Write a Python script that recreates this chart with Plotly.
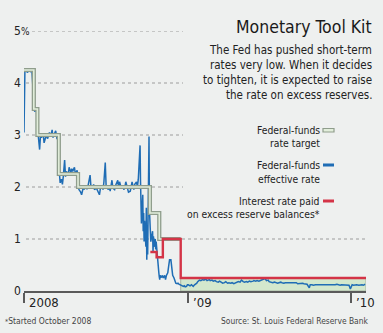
import plotly.graph_objects as go

# ---- data -------------------------------------------------------------
# Federal-funds rate target (step changes)
target_dates = ["2007-12-31", "2008-01-22", "2008-01-30", "2008-03-18",
                "2008-04-30", "2008-10-08", "2008-10-29", "2008-12-16"]
target_values = [4.25, 3.5, 3.0, 2.25, 2.0, 1.5, 1.0, 1.0]

# Target range 0-0.25% from Dec. 16, 2008
range_start = "2008-12-16"
range_end = "2010-02-04"
range_low = 0.0
range_high = 0.25

# Interest rate paid on excess reserve balances
ioer_dates = ["2008-10-09", "2008-10-23", "2008-11-06", "2008-12-16", "2010-02-04"]
ioer_values = [0.75, 0.65, 1.0, 0.25, 0.25]

# Federal-funds effective rate
eff_dates = [
    "2007-12-31", "2008-01-02", "2008-01-04", "2008-01-08", "2008-01-10", "2008-01-14",
    "2008-01-16", "2008-01-18", "2008-01-22", "2008-01-24", "2008-01-28", "2008-01-30",
    "2008-02-01", "2008-02-04", "2008-02-06", "2008-02-08", "2008-02-12", "2008-02-14",
    "2008-02-19", "2008-02-22", "2008-02-26", "2008-02-29", "2008-03-03", "2008-03-05",
    "2008-03-07", "2008-03-11", "2008-03-14", "2008-03-17", "2008-03-19", "2008-03-21",
    "2008-03-24", "2008-03-26", "2008-03-28", "2008-03-31", "2008-04-02", "2008-04-04",
    "2008-04-08", "2008-04-10", "2008-04-14", "2008-04-16", "2008-04-18", "2008-04-22",
    "2008-04-24", "2008-04-28", "2008-04-30", "2008-05-02", "2008-05-06", "2008-05-08",
    "2008-05-12", "2008-05-14", "2008-05-16", "2008-05-20", "2008-05-22", "2008-05-27",
    "2008-05-29", "2008-06-02", "2008-06-04", "2008-06-06", "2008-06-10", "2008-06-13",
    "2008-06-17", "2008-06-19", "2008-06-23", "2008-06-25", "2008-06-27", "2008-06-30",
    "2008-07-02", "2008-07-07", "2008-07-09", "2008-07-11", "2008-07-15", "2008-07-17",
    "2008-07-21", "2008-07-24", "2008-07-28", "2008-07-30", "2008-08-01", "2008-08-05",
    "2008-08-07", "2008-08-11", "2008-08-13", "2008-08-15", "2008-08-19", "2008-08-21",
    "2008-08-25", "2008-08-27", "2008-08-29", "2008-09-02", "2008-09-04", "2008-09-08",
    "2008-09-10", "2008-09-12", "2008-09-15", "2008-09-16", "2008-09-17", "2008-09-18",
    "2008-09-19", "2008-09-22", "2008-09-23", "2008-09-24", "2008-09-25", "2008-09-26",
    "2008-09-29", "2008-09-30", "2008-10-01", "2008-10-02", "2008-10-03", "2008-10-06",
    "2008-10-07", "2008-10-08", "2008-10-09", "2008-10-10", "2008-10-14", "2008-10-15",
    "2008-10-16", "2008-10-17", "2008-10-20", "2008-10-21", "2008-10-22", "2008-10-23",
    "2008-10-24", "2008-10-27", "2008-10-28", "2008-10-29", "2008-10-30", "2008-10-31",
    "2008-11-03", "2008-11-05", "2008-11-07", "2008-11-10", "2008-11-12", "2008-11-14",
    "2008-11-17", "2008-11-19", "2008-11-21", "2008-11-24", "2008-11-26", "2008-11-28",
    "2008-12-01", "2008-12-03", "2008-12-05", "2008-12-08", "2008-12-10", "2008-12-12",
    "2008-12-15", "2008-12-17", "2008-12-19", "2008-12-22", "2008-12-24", "2008-12-26",
    "2008-12-29", "2008-12-31",
    "2009-01-02", "2009-01-06", "2009-01-09", "2009-01-13", "2009-01-16", "2009-01-21",
    "2009-01-23", "2009-01-27", "2009-01-30", "2009-02-03", "2009-02-06", "2009-02-10",
    "2009-02-13", "2009-02-18", "2009-02-20", "2009-02-24", "2009-02-27", "2009-03-03",
    "2009-03-06", "2009-03-10", "2009-03-13", "2009-03-17", "2009-03-20", "2009-03-24",
    "2009-03-27", "2009-03-31", "2009-04-03", "2009-04-07", "2009-04-10", "2009-04-14",
    "2009-04-17", "2009-04-21", "2009-04-24", "2009-04-28", "2009-05-01", "2009-05-05",
    "2009-05-08", "2009-05-12", "2009-05-15", "2009-05-19", "2009-05-22", "2009-05-27",
    "2009-05-29", "2009-06-02", "2009-06-05", "2009-06-09", "2009-06-12", "2009-06-16",
    "2009-06-19", "2009-06-23", "2009-06-26", "2009-06-30", "2009-07-02", "2009-07-07",
    "2009-07-10", "2009-07-14", "2009-07-17", "2009-07-21", "2009-07-24", "2009-07-28",
    "2009-07-31", "2009-08-04", "2009-08-07", "2009-08-11", "2009-08-14", "2009-08-18",
    "2009-08-21", "2009-08-25", "2009-08-28", "2009-09-01", "2009-09-04", "2009-09-09",
    "2009-09-11", "2009-09-15", "2009-09-18", "2009-09-22", "2009-09-25", "2009-09-30",
    "2009-10-02", "2009-10-06", "2009-10-09", "2009-10-14", "2009-10-16", "2009-10-20",
    "2009-10-23", "2009-10-27", "2009-10-30", "2009-11-03", "2009-11-06", "2009-11-10",
    "2009-11-13", "2009-11-17", "2009-11-20", "2009-11-24", "2009-11-27", "2009-12-01",
    "2009-12-04", "2009-12-08", "2009-12-11", "2009-12-15", "2009-12-18", "2009-12-22",
    "2009-12-28", "2009-12-31", "2010-01-04", "2010-01-07", "2010-01-11", "2010-01-14",
    "2010-01-19", "2010-01-22", "2010-01-26", "2010-01-29", "2010-02-02",
]
eff_values = [
    3.05, 4.22, 4.24, 4.20, 4.25, 4.22,
    4.26, 4.20, 3.62, 3.45, 3.50, 3.00,
    2.98, 2.72, 3.00, 2.95, 3.02, 2.85,
    3.00, 2.93, 3.05, 2.97, 3.10, 2.95,
    3.00, 3.08, 2.92, 2.98, 2.30, 2.08,
    2.15, 2.05, 2.20, 2.52, 2.20, 2.30,
    2.22, 2.38, 2.28, 2.35, 2.30, 2.38,
    2.25, 2.32, 2.10, 1.95, 1.90, 1.85,
    2.00, 1.95, 2.02, 1.96, 2.00, 2.23,
    2.00, 1.98, 2.05, 1.95, 1.98, 1.92,
    1.85, 1.97, 2.00, 1.95, 2.10, 2.47,
    2.00, 1.95, 2.02, 1.92, 2.13, 1.98,
    1.95, 2.05, 2.13, 1.98, 2.10, 1.97,
    2.03, 1.95, 2.00, 2.10, 1.98, 1.90,
    1.92, 2.00, 2.10, 1.95, 2.05, 2.10,
    2.00, 2.15, 2.60, 2.80, 2.10, 1.60,
    1.30, 1.85, 1.15, 1.50, 0.95, 1.35,
    0.85, 1.60, 0.60, 1.20, 0.70, 2.97,
    1.55, 1.20, 1.35, 0.95, 1.15, 0.75,
    1.05, 0.85, 1.00, 0.80, 0.95, 0.82,
    0.70, 0.50, 0.35, 0.27, 0.22, 0.30,
    0.26, 0.30, 0.25, 0.30, 0.22, 0.30,
    0.35, 0.48, 0.60, 0.60, 0.45, 0.30,
    0.25, 0.20, 0.15, 0.14, 0.15, 0.13,
    0.12, 0.11, 0.10, 0.09, 0.10, 0.08,
    0.09, 0.12,
    0.12, 0.10, 0.12, 0.09, 0.12, 0.15,
    0.18, 0.21, 0.20, 0.22, 0.21, 0.23,
    0.20, 0.22, 0.20, 0.21, 0.19, 0.20,
    0.18, 0.17, 0.19, 0.17, 0.15, 0.16,
    0.18, 0.15, 0.16, 0.15, 0.16, 0.14,
    0.15, 0.16, 0.18, 0.17, 0.21, 0.18,
    0.17, 0.18, 0.17, 0.19, 0.18, 0.19,
    0.20, 0.19, 0.20, 0.19, 0.20, 0.21,
    0.22, 0.24, 0.20, 0.21, 0.18, 0.17,
    0.16, 0.17, 0.16, 0.15, 0.16, 0.17,
    0.16, 0.15, 0.16, 0.16, 0.15, 0.16,
    0.15, 0.16, 0.15, 0.16, 0.14, 0.15,
    0.14, 0.15, 0.14, 0.14, 0.13, 0.06,
    0.12, 0.12, 0.11, 0.12, 0.12, 0.11,
    0.12, 0.11, 0.12, 0.12, 0.11, 0.12,
    0.12, 0.12, 0.11, 0.12, 0.12, 0.13,
    0.12, 0.11, 0.12, 0.12, 0.12, 0.12,
    0.11, 0.04, 0.12, 0.11, 0.12, 0.12,
    0.11, 0.12, 0.12, 0.11, 0.13,
]

y_ticks = [0, 1, 2, 3, 4, 5]
y_tick_text = ["0", "1", "2", "3", "4", "5<span style='font-size:10px'>%</span>"]
x_ticks = ["2008-01-01", "2009-01-01", "2010-01-01"]
x_tick_text = ["2008", "\u201909", "\u201910"]

# ---- styling ----------------------------------------------------------
W, H = 383, 333
L, R, T, B = 24, 17, 31, 42
PW, PH = W - L - R, H - T - B
BG = "#eef0ef"
TXT = "#222222"
FONT = "Liberation Sans Narrow, DejaVu Sans Condensed, Arial Narrow, sans-serif"
BLUE = "#1f6db5"
RED = "#d43447"
GREEN_EDGE = "#8f9d8c"
GREEN_IN = "#e2eedb"
BAND = "#d3e8cd"


def px(x):
    return (x - L) / PW


def py(y):
    return (H - B - y) / PH


fig = go.Figure()

# target range band
fig.add_trace(go.Scatter(
    x=[range_start, range_start, range_end, range_end, range_start],
    y=[range_low, range_high, range_high, range_low, range_low],
    mode="lines", fill="toself", fillcolor=BAND,
    line=dict(color="#a7b5a3", width=1), hoverinfo="skip"))

# effective rate
fig.add_trace(go.Scatter(
    x=eff_dates, y=eff_values, mode="lines",
    line=dict(color=BLUE, width=1.5)))

# target rate, drawn as a double line
fig.add_trace(go.Scatter(
    x=target_dates, y=target_values, mode="lines", line_shape="hv",
    line=dict(color=GREEN_EDGE, width=4.2)))
fig.add_trace(go.Scatter(
    x=target_dates, y=target_values, mode="lines", line_shape="hv",
    line=dict(color=GREEN_IN, width=1.6)))

# interest on excess reserves
fig.add_trace(go.Scatter(
    x=ioer_dates, y=ioer_values, mode="lines", line_shape="hv",
    line=dict(color=RED, width=2.4)))

shapes = []
# dotted gridlines
for v in y_ticks[1:]:
    x1 = px(367) if v == 1 else px(183)
    shapes.append(dict(type="line", xref="paper", yref="y", x0=px(26), x1=x1,
                       y0=v, y1=v, line=dict(color="#9c9c9c", width=1, dash="dot"),
                       layer="below"))

annotations = []
# y tick labels
for v, t in zip(y_ticks, y_tick_text):
    annotations.append(dict(xref="paper", yref="y", x=px(11.5), y=v, text=t,
                            showarrow=False, xanchor="left", yanchor="middle",
                            font=dict(size=12, color=TXT, family=FONT)))
# x tick labels, set just right of each tick
for d, t in zip(x_ticks, x_tick_text):
    annotations.append(dict(xref="x", yref="paper", x=d, y=py(302), text=t,
                            showarrow=False, xanchor="left", yanchor="middle",
                            xshift=3, font=dict(size=13, color=TXT, family=FONT)))

# title and deck
annotations.append(dict(xref="paper", yref="paper", x=px(374), y=py(27),
                        text="Monetary Tool Kit", showarrow=False,
                        xanchor="right", yanchor="middle",
                        font=dict(size=17.5, color="#1a1a1a", family=FONT)))
deck = ["The Fed has pushed short-term", "rates very low. When it decides",
        "to tighten, it is expected to raise", "the rate on excess reserves."]
for i, line in enumerate(deck):
    annotations.append(dict(xref="paper", yref="paper", x=px(374), y=py(50 + 15 * i),
                            text=line, showarrow=False, xanchor="right",
                            yanchor="middle",
                            font=dict(size=11.5, color=TXT, family=FONT)))

# legend block
legend_lines = [("Federal-funds", 130), ("rate target", 143),
                ("Federal-funds", 165), ("effective rate", 179),
                ("Interest rate paid", 201), ("on excess reserve balances*", 214)]
for text, yy in legend_lines:
    annotations.append(dict(xref="paper", yref="paper", x=px(321.5), y=py(yy),
                            text=text, showarrow=False, xanchor="right",
                            yanchor="middle",
                            font=dict(size=10.3, color=TXT, family=FONT)))
shapes.append(dict(type="rect", xref="paper", yref="paper",
                   x0=px(323), x1=px(334), y0=py(128.5), y1=py(132),
                   fillcolor=GREEN_IN, line=dict(color=GREEN_EDGE, width=1.2)))
shapes.append(dict(type="line", xref="paper", yref="paper",
                   x0=px(323), x1=px(334), y0=py(165), y1=py(165),
                   line=dict(color=BLUE, width=3)))
shapes.append(dict(type="line", xref="paper", yref="paper",
                   x0=px(323), x1=px(334), y0=py(201), y1=py(201),
                   line=dict(color=RED, width=3)))

# footnote and source
annotations.append(dict(xref="paper", yref="paper", x=px(3), y=py(321),
                        text="<span style='font-size:7px'>*</span>Started October 2008",
                        showarrow=False, xanchor="left", yanchor="middle",
                        font=dict(size=8.5, color="#444", family=FONT)))
annotations.append(dict(xref="paper", yref="paper", x=px(369.5), y=py(321),
                        text="Source: St. Louis Federal Reserve Bank",
                        showarrow=False, xanchor="right", yanchor="middle",
                        font=dict(size=8.4, color="#444", family=FONT)))

fig.update_layout(
    width=W, height=H,
    margin=dict(l=L, r=R, t=T, b=B, pad=0),
    paper_bgcolor=BG, plot_bgcolor=BG,
    showlegend=False,
    shapes=shapes, annotations=annotations,
    xaxis=dict(type="date", range=["2007-12-31", "2010-02-04"],
               tickvals=x_ticks, showticklabels=False,
               ticks="outside", ticklen=10, tickwidth=1.5, tickcolor="#5a5a5a",
               showline=True, linecolor="#5a5a5a", linewidth=1.5,
               showgrid=False, zeroline=False, fixedrange=True),
    yaxis=dict(range=[0, 5], showticklabels=False, showgrid=False,
               zeroline=False, showline=False, fixedrange=True),
)

fig.write_html("out.html", config={"displayModeBar": False})
